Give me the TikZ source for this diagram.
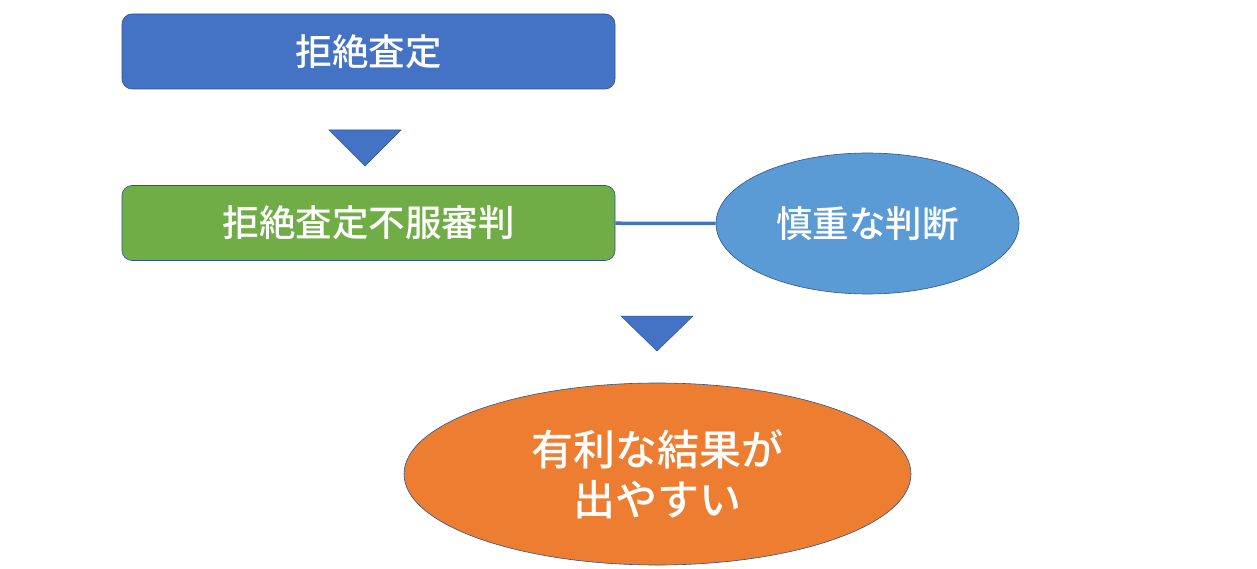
\documentclass[tikz,border=0pt]{standalone}
\usepackage{fontspec}
\newfontfamily\jpfont{Noto Sans CJK JP}[BoldFont={Noto Sans CJK JP Medium}]
\usetikzlibrary{shapes.geometric}

\definecolor{msblue}{HTML}{4472C4}
\definecolor{msgreen}{HTML}{70AD47}
\definecolor{mslight}{HTML}{5B9BD5}
\definecolor{msorange}{HTML}{ED7D31}
\definecolor{msedge}{HTML}{2F528F}

\begin{document}
\begin{tikzpicture}[
    x=1pt, y=-1pt,
    stepbox/.style={rectangle, rounded corners=10pt, draw=msedge, line width=0.6pt,
        minimum width=493pt, minimum height=75pt, inner sep=0pt,
        text=white, font=\jpfont\bfseries\fontsize{36.5}{40}\selectfont},
    bubble/.style={ellipse, draw=msedge, line width=0.6pt, inner sep=0pt,
        text=white, font=\jpfont\bfseries\fontsize{36.5}{40}\selectfont},
    pointer/.style={fill=msblue, draw=msedge, line width=0.5pt},
    link/.style={msblue, line width=3.5pt, -}
]
    \useasboundingbox (0,0) rectangle (1257,569);
    \node[stepbox, fill=msblue] (kyozetsu) at (368.5,51.5) {拒絶査定};
    \node[stepbox, fill=msgreen] (fufuku) at (368.5,223) {拒絶査定不服審判};
    \node[bubble, fill=mslight, minimum width=303pt, minimum height=141pt] (shincho) at (867.5,223.5) {慎重な判断};
    \node[bubble, fill=msorange, minimum width=507pt, minimum height=182pt,
        align=center, font=\jpfont\bfseries\fontsize{42}{50}\selectfont] (kekka) at (657.5,474) {有利な結果が\\出やすい};
    \draw[link] (fufuku) -- (shincho);
    \draw[pointer] (329,130) -- (401,130) -- (365,166) -- cycle;
    \draw[pointer] (621,316) -- (693,316) -- (657,351) -- cycle;
\end{tikzpicture}
\end{document}
